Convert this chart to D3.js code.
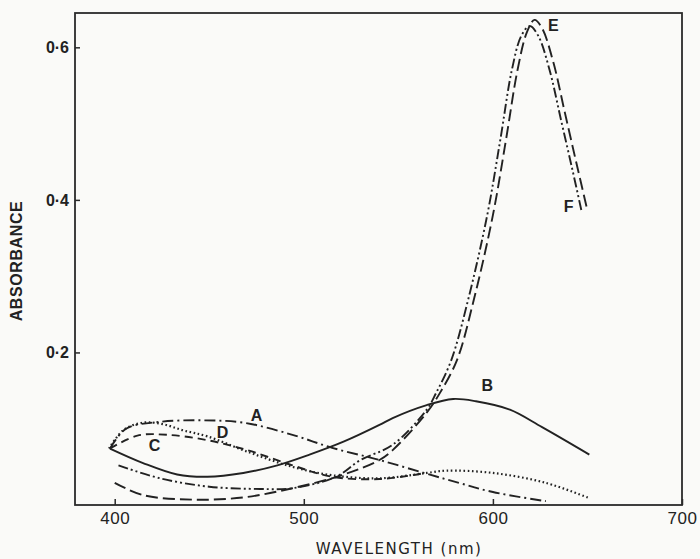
<!DOCTYPE html>
<html>
<head>
<meta charset="utf-8">
<script src="https://cdn.jsdelivr.net/npm/d3@7"></script>
<style>
  body { margin: 0; background: #fafaf8; }
  svg { display: block; }
  .tick text { font-family: "Liberation Sans", Arial, sans-serif; fill: #222; }
</style>
</head>
<body>
<svg id="chart" width="700" height="559"></svg>
<script>
// absorbance spectra
const xTicks = [400, 500, 600, 700];
const yTicks = [0.2, 0.4, 0.6];

const aNm = [397.5, 406, 424, 446, 468, 494, 515, 540, 565, 582, 600, 628];
const aAbs = [0.074, 0.100, 0.109, 0.111, 0.108, 0.092, 0.075, 0.059, 0.041, 0.029, 0.017, 0.005];

const bNm = [397.5, 415, 433, 449, 468, 486, 503, 521, 540, 547, 565, 579, 591, 609, 626, 651];
const bAbs = [0.074, 0.055, 0.040, 0.037, 0.042, 0.052, 0.066, 0.083, 0.105, 0.114, 0.131, 0.139, 0.136, 0.125, 0.102, 0.066];

const cNm = [397.5, 412, 428, 449, 470, 494, 515, 540, 562];
const cAbs = [0.074, 0.091, 0.092, 0.085, 0.072, 0.052, 0.037, 0.034, 0.041];

const dNm = [397, 404.5, 415, 425.5, 436, 449, 470, 494, 515, 540, 565, 575, 600, 628, 651];
const dAbs = [0.074, 0.098, 0.108, 0.106, 0.098, 0.090, 0.070, 0.050, 0.039, 0.035, 0.042, 0.045, 0.042, 0.029, 0.009];

const eNm = [400, 415, 441, 468, 494, 520, 540, 547, 565, 572, 581, 590, 600, 607, 613, 618, 622, 626, 632, 638, 644, 650];
const eAbs = [0.029, 0.013, 0.007, 0.010, 0.022, 0.039, 0.059, 0.072, 0.121, 0.147, 0.190, 0.270, 0.380, 0.480, 0.570, 0.620, 0.636, 0.625, 0.580, 0.515, 0.450, 0.386];

const fNm = [402, 424, 450, 477, 494, 517, 530, 547, 565, 570, 578, 587, 597, 604, 610, 615, 619.5, 624, 630, 636, 642, 647];
const fAbs = [0.052, 0.035, 0.024, 0.021, 0.022, 0.037, 0.059, 0.079, 0.125, 0.147, 0.190, 0.270, 0.380, 0.480, 0.570, 0.615, 0.628, 0.615, 0.570, 0.505, 0.440, 0.384];

const curveNames = ['A', 'B', 'C', 'D', 'E', 'F'];
const labelNm = [475, 597, 421, 457, 632, 640];
const labelAbs = [0.115, 0.155, 0.076, 0.094, 0.627, 0.39];

const width = 700;
const height = 559;
const paddingLeft = 75;
const paddingRight = 18;
const paddingTop = 13;
const paddingBottom = 54;

const series = [
  { name: 'A', nm: aNm, abs: aAbs, dash: '11,4,2,4' },
  { name: 'B', nm: bNm, abs: bAbs, dash: null },
  { name: 'C', nm: cNm, abs: cAbs, dash: '8,5' },
  { name: 'D', nm: dNm, abs: dAbs, dash: '1.6,2.6' },
  { name: 'E', nm: eNm, abs: eAbs, dash: '12,5' },
  { name: 'F', nm: fNm, abs: fAbs, dash: '10,3,2,3,2,3' },
];

const svg = d3.select('#chart');

const xScale = d3.scaleLinear()
  .domain([379, 700])
  .range([paddingLeft, width - paddingRight]);
const yScale = d3.scaleLinear()
  .domain([0, 0.645])
  .range([height - paddingBottom, paddingTop]);

// frame
svg.append('rect')
  .attr('x', paddingLeft)
  .attr('y', paddingTop)
  .attr('width', width - paddingLeft - paddingRight)
  .attr('height', height - paddingTop - paddingBottom)
  .attr('fill', 'none')
  .attr('stroke', '#2a2a2a')
  .attr('stroke-width', 1.8);

const xAxis = d3.axisBottom(xScale)
  .tickValues(xTicks)
  .tickSizeInner(-6)
  .tickSizeOuter(0)
  .tickPadding(7)
  .tickFormat(d3.format('d'));
svg.append('g')
  .attr('class', 'xAxis')
  .attr('transform', `translate(0, ${height - paddingBottom})`)
  .call(xAxis)
  .call((g) => g.select('.domain').remove())
  .call((g) => g.selectAll('.tick line').attr('stroke', '#2a2a2a').attr('stroke-width', 1.5))
  .selectAll('text')
    .style('font-size', '17px')
    .style('letter-spacing', '0.5px');

const yAxis = d3.axisLeft(yScale)
  .tickValues(yTicks)
  .tickSizeInner(-5)
  .tickSizeOuter(0)
  .tickPadding(6)
  .tickFormat((d) => d.toFixed(1).replace('.', '·'));
svg.append('g')
  .attr('class', 'yAxis')
  .attr('transform', `translate(${paddingLeft}, 0)`)
  .call(yAxis)
  .call((g) => g.select('.domain').remove())
  .call((g) => g.selectAll('.tick line').attr('stroke', '#2a2a2a').attr('stroke-width', 1.5))
  .selectAll('text')
    .style('font-size', '16px')
    .style('font-weight', 'bold');

// curves
const line = d3.line()
  .x((d) => xScale(d[0]))
  .y((d) => yScale(d[1]))
  .curve(d3.curveCatmullRom.alpha(0.5));

series.forEach((s) => {
  const pts = s.nm.map((v, i) => [v, s.abs[i]]);
  svg.append('path')
    .datum(pts)
    .attr('d', line)
    .attr('fill', 'none')
    .attr('stroke', '#222')
    .attr('stroke-width', s.name === 'D' ? 2.2 : 1.9)
    .attr('stroke-dasharray', s.dash);
});

// curve letters
svg.selectAll('.curveLabel')
  .data(curveNames)
  .enter()
  .append('text')
  .attr('class', 'curveLabel')
  .attr('x', (d, i) => xScale(labelNm[i]))
  .attr('y', (d, i) => yScale(labelAbs[i]))
  .attr('text-anchor', 'middle')
  .attr('dominant-baseline', 'middle')
  .style('font-family', '"Liberation Sans", Arial, sans-serif')
  .style('font-size', '16px')
  .style('font-weight', 'bold')
  .style('fill', '#222')
  .text((d) => d);

// axis titles
svg.append('text')
  .attr('transform', 'translate(18, 261) rotate(-90)')
  .attr('text-anchor', 'middle')
  .attr('dominant-baseline', 'middle')
  .style('font-family', '"Liberation Sans", Arial, sans-serif')
  .style('font-size', '16px')
  .style('font-weight', 'bold')
  .style('letter-spacing', '0.6px')
  .style('fill', '#222')
  .text('ABSORBANCE');

svg.append('text')
  .attr('x', 399)
  .attr('y', 549)
  .attr('text-anchor', 'middle')
  .attr('dominant-baseline', 'middle')
  .style('font-family', '"DejaVu Sans", sans-serif')
  .style('font-size', '15px')
  .style('letter-spacing', '1.5px')
  .style('fill', '#222')
  .text('WAVELENGTH (nm)');
</script>
</body>
</html>
